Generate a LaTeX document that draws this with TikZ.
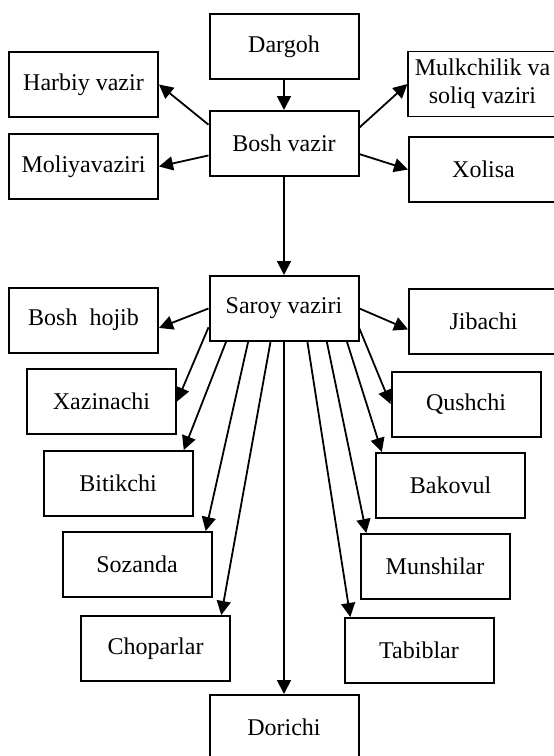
\documentclass[tikz,border=0pt]{standalone}
\usepackage{fontspec}
\setmainfont{Liberation Serif}
\usetikzlibrary{arrows.meta}
\begin{document}
\begin{tikzpicture}[x=0.5pt,y=-0.5pt,
		boxnode/.style={draw,line width=1pt,minimum width=74.5pt,minimum height=32.5pt,inner sep=1pt,align=center,font=\fontsize{12}{14}\selectfont},
		arr/.style={-{Triangle[length=7pt,width=7pt]},line width=0.9pt}]
		\useasboundingbox(0,0)rectangle(553,756);
		% top part
		\node[boxnode](dargoh)at(284,46.5){Dargoh};
		\node[boxnode](bosh)at(284,143.5){Bosh vazir};
		\node[boxnode](harbiy)at(83.5,84.5){Harbiy vazir};
		\node[boxnode](moliya)at(83.5,166.5){Moliyavaziri};
		\node[boxnode,line width=0.6pt](mulk)at(482.5,84){Mulkchilik va\\soliq vaziri};
		\node[boxnode](xolisa)at(483.5,169.5){Xolisa};
		% saroy part
		\node[boxnode](saroy)at(284,308.5){Saroy vaziri};
		\node[boxnode](hojib)at(83.5,320){Bosh\ \ hojib};
		\node[boxnode](jibachi)at(483.5,321.5){Jibachi};
		\node[boxnode](xazina)at(101.5,401.5){Xazinachi};
		\node[boxnode](qushchi)at(466,404){Qushchi};
		\node[boxnode](bitikchi)at(118,483.5){Bitikchi};
		\node[boxnode](bakovul)at(450.5,485.5){Bakovul};
		\node[boxnode](sozanda)at(137,564.5){Sozanda};
		\node[boxnode](munshilar)at(435,566.5){Munshilar};
		\node[boxnode](choparlar)at(155.5,648.5){Choparlar};
		\node[boxnode](tabiblar)at(419,650.5){Tabiblar};
		\node[boxnode](dorichi)at(284,727.5){Dorichi};
		% arrows
		\draw[arr](dargoh)--(bosh);
		\draw[arr](bosh.166)--(harbiy.east);
		\draw[arr](bosh.189)--(moliya.east);
		\draw[arr](bosh.12)--(mulk.west);
		\draw[arr](bosh.-8)--(xolisa.west);
		\draw[arr](bosh)--(saroy);
		\draw[arr](saroy.west)--(hojib.-6);
		\draw[arr](saroy.east)--(jibachi.186);
		\draw[arr](saroy.194)--(xazina.east);
		\draw[arr](saroy.-15)--(qushchi.west);
		\draw[arr](saroy.210)--(bitikchi.27);
		\draw[arr](saroy.223)--(sozanda.26);
		\draw[arr](saroy.248)--(choparlar.27);
		\draw[arr](saroy)--(dorichi);
		\draw[arr](saroy.-55)--(tabiblar.154);
		\draw[arr](saroy.-38)--(munshilar.154);
		\draw[arr](saroy.-28)--(bakovul.154);
	\end{tikzpicture}
\end{document}
